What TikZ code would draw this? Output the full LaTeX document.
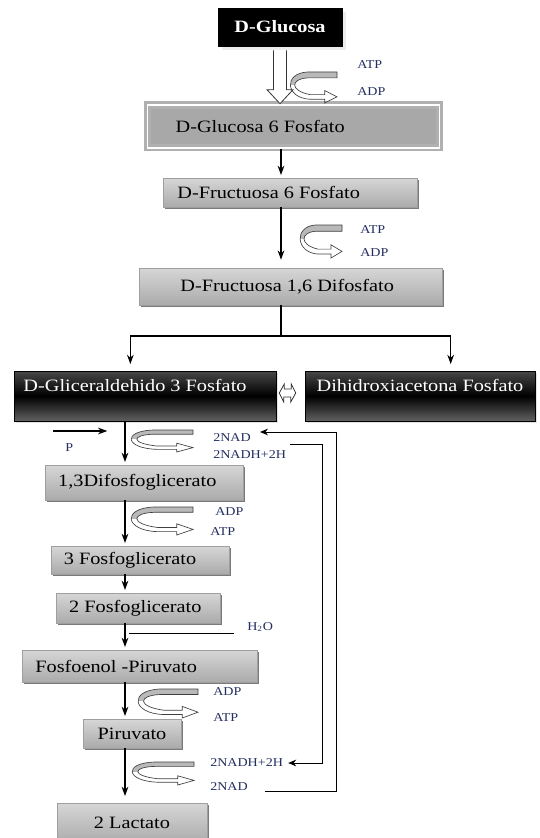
\documentclass[tikz,border=0pt]{standalone}
\usepackage{fontspec}
\setmainfont{Liberation Serif}[FakeStretch=1.17]
\usepackage{tikz}
\usetikzlibrary{arrows.meta,calc,shadows}

\definecolor{etiqueta}{RGB}{35,45,95}

\begin{document}
\begin{tikzpicture}[x=0.75pt,y=-0.75pt,
    caja/.style={draw=gray!75, top color=gray!32, bottom color=gray!66,
        font=\fontsize{13}{15}\selectfont, inner sep=3pt,
        drop shadow={shadow xshift=1.5pt, shadow yshift=-1.5pt, fill=black!65, opacity=.8}},
    cajanegra/.style={draw=black, top color=black!72, bottom color=black!62, middle color=black,
        text=white, font=\fontsize{13}{15}\selectfont, inner ysep=4.5pt,
        text height=11pt, text depth=17.5pt,
        drop shadow={shadow xshift=1.5pt, shadow yshift=-1.5pt, fill=gray!45}},
    etiq/.style={anchor=west, text=etiqueta, font=\fontsize{9}{10}\selectfont, inner sep=0pt},
    flecha/.style={-{Stealth[length=7pt,width=5pt]}, line width=0.9pt, shorten >=2pt},
    retorno/.style={-{Stealth[length=6pt,width=5pt]}, line width=0.7pt},
    hueca/.style={draw=black!80, fill=white, line width=0.6pt},
    giro/.pic={
        \begin{scope}
            \clip (1,0) -- (1,0.19) -- (0.4,0.19) .. controls (0.05,0.22) and (0.03,0.6) .. (0.45,0.73)
                -- (0.75,0.73) -- (0.75,0.6) -- (1,0.8) -- (0.75,1) -- (0.75,0.88) -- (0.45,0.88)
                .. controls (-0.05,0.84) and (-0.1,0.04) .. (0.4,0) -- cycle;
            \fill[gray!55] (-0.1,-0.1) rectangle (1.1,0.42);
        \end{scope}
        \draw[black!75, line width=0.5pt] (1,0) -- (1,0.19) -- (0.4,0.19) .. controls (0.05,0.22) and (0.03,0.6) .. (0.45,0.73)
                -- (0.75,0.73) -- (0.75,0.6) -- (1,0.8) -- (0.75,1) -- (0.75,0.88) -- (0.45,0.88)
                .. controls (-0.05,0.84) and (-0.1,0.04) .. (0.4,0) -- cycle;
    }]

    \useasboundingbox (0,0) rectangle (539,838);

    % ejes de las flechas
    \coordinate (eje) at (281,0);
    \coordinate (eje2) at (125,0);
    \coordinate (ret1) at (336,0);
    \coordinate (ret2) at (322,0);
    \coordinate (ramal) at (281,336);

    % cajas
    \node[draw=black, fill=black, text=white, font=\fontsize{13}{15}\selectfont\bfseries,
        minimum width=93pt, minimum height=28.5pt,
        drop shadow={shadow xshift=3pt, shadow yshift=-3pt, fill=gray!30}] (glu) at (280,27) {D-Glucosa};
    \node[draw=gray!62, double=white, double distance=1.1pt, line width=2.2pt, fill=gray!68,
        font=\fontsize{13}{15}\selectfont, minimum width=219pt, minimum height=32pt] (g6p) at (293.5,126.5) {D-Glucosa 6 Fosfato\hspace*{50pt}};
    \node[caja, minimum width=190.5pt, minimum height=21.75pt] (f6p) at (290,192.5) {D-Fructuosa 6 Fosfato\hspace*{32pt}};
    \node[caja, minimum width=227.25pt, minimum height=27.75pt] (f16) at (290.5,286.5) {D-Fructuosa 1,6 Difosfato\hspace*{5pt}};
    \node[cajanegra, minimum width=196.5pt, minimum height=37.5pt] (gap) at (145,396) {D-Gliceraldehido 3 Fosfato\hspace*{15pt}};
    \node[cajanegra, minimum width=172.5pt, minimum height=37.5pt] (dhap) at (420,396) {Dihidroxiacetona Fosfato};
    \node[caja, minimum width=148.5pt, minimum height=26.25pt] (bpg) at (144,482.5) {1,3Difosfoglicerato\hspace*{10pt}};
    \node[caja, minimum width=133.5pt, minimum height=21pt] (pg3) at (140,560) {3 Fosfoglicerato\hspace*{15pt}};
    \node[caja, minimum width=123pt, minimum height=22.5pt] (pg2) at (138,608) {2 Fosfoglicerato\hspace*{4pt}};
    \node[caja, minimum width=176.25pt, minimum height=24pt] (pep) at (139.5,666) {Fosfoenol -Piruvato\hspace*{35pt}};
    \node[caja, minimum width=73.5pt, minimum height=21.75pt] (pir) at (132,733.5) {Piruvato};
    \node[caja, minimum width=112.5pt, minimum height=30pt] (lac) at (132,823) {2 Lactato};

    % glucosa -> glucosa 6 fosfato
    \coordinate (punta) at (glu.south |- g6p.north);
    \draw[hueca] ($(glu.south)+(-6.5,4)$) -- ($(punta)+(-6.5,-14)$) -- ($(punta)+(-13,-14)$) -- (punta)
        -- ($(punta)+(13,-14)$) -- ($(punta)+(6.5,-14)$) -- ($(glu.south)+(6.5,4)$);
    \pic[xscale=49,yscale=31] at (288,72) {giro};
    \node[etiq] (atp1) at (357,65) {ATP};
    \node[etiq] (adp1) at (357,92) {ADP};

    \draw[flecha] (eje |- g6p.south) -- (eje |- f6p.north);
    \draw[flecha, shorten >=6pt] (eje |- f6p.south) -- (eje |- f16.north);
    \pic[xscale=44,yscale=33] at (298,225) {giro};
    \node[etiq] (atp2) at (360,230) {ATP};
    \node[etiq] (adp2) at (360,253) {ADP};

    % division en dos triosas
    \draw[line width=0.9pt] (eje |- f16.south) -- (ramal);
    \draw[flecha, shorten >=5pt] (ramal) -| ([xshift=-11pt]gap.north);
    \draw[flecha, shorten >=5pt] (ramal) -| ([xshift=23pt]dhap.north);

    % isomerasa
    \coordinate (izq) at ($(gap.east)+(3,-3)$);
    \coordinate (der) at ($(dhap.west)+(-9,-3)$);
    \draw[hueca] (izq) -- ++(5,-9) -- ++(0,5) -- ++(7,0) -- ++(0,-5) -- (der)
        -- ++(-5,9) -- ++(0,-5) -- ++(-7,0) -- ++(0,5) -- cycle;

    % gliceraldehido -> 1,3 difosfoglicerato
    \draw[flecha] (eje2 |- gap.south) -- (eje2 |- bpg.north);
    \coordinate (pin) at (53,431);
    \draw[flecha] (pin) -- ($(eje2 |- pin)+(-15,0)$);
    \node[etiq] (pfos) at (65,448) {P};
    \pic[xscale=65,yscale=22] at (128,430) {giro};
    \node[etiq] (nad1) at (213,438) {2NAD};
    \node[etiq] (nadh1) at (213,455) {2NADH+2H};

    \draw[flecha] (eje2 |- bpg.south) -- (eje2 |- pg3.north);
    \pic[xscale=65,yscale=28] at (128,507) {giro};
    \node[etiq] (adp3) at (215,512) {ADP};
    \node[etiq] (atp3) at (210,532) {ATP};

    \draw[flecha] (eje2 |- pg3.south) -- (eje2 |- pg2.north);
    \draw[flecha] (eje2 |- pg2.south) -- (eje2 |- pep.north);
    \node[etiq] (agua) at (247,627) {H\textsubscript{2}O};
    \draw[line width=0.6pt] ($(eje2 |- agua)+(4,6)$) -- ($(agua.west)+(-13,6)$);

    \draw[flecha] (eje2 |- pep.south) -- (eje2 |- pir.north);
    \pic[xscale=63,yscale=29] at (135,689) {giro};
    \node[etiq] (adp4) at (213,692) {ADP};
    \node[etiq] (atp4) at (213,718) {ATP};

    \draw[flecha, shorten >=5pt] (eje2 |- pir.south) -- (eje2 |- lac.north);
    \pic[xscale=65,yscale=23] at (129,762) {giro};
    \node[etiq] (nadh2) at (210,763) {2NADH+2H};
    \node[etiq] (nad2) at (210,787) {2NAD};

    % reciclaje del NAD
    \draw[retorno] ($(nadh1.east)+(4,-11)$) -| (ret2 |- nadh2.east) -- ($(nadh2.east)+(5,0)$);
    \draw[retorno] ($(nad2.east)+(17,4)$) -| ($(ret1 |- nad1.east)+(0,-6)$) -- ($(nad1.east)+(9,-6)$);
\end{tikzpicture}
\end{document}
